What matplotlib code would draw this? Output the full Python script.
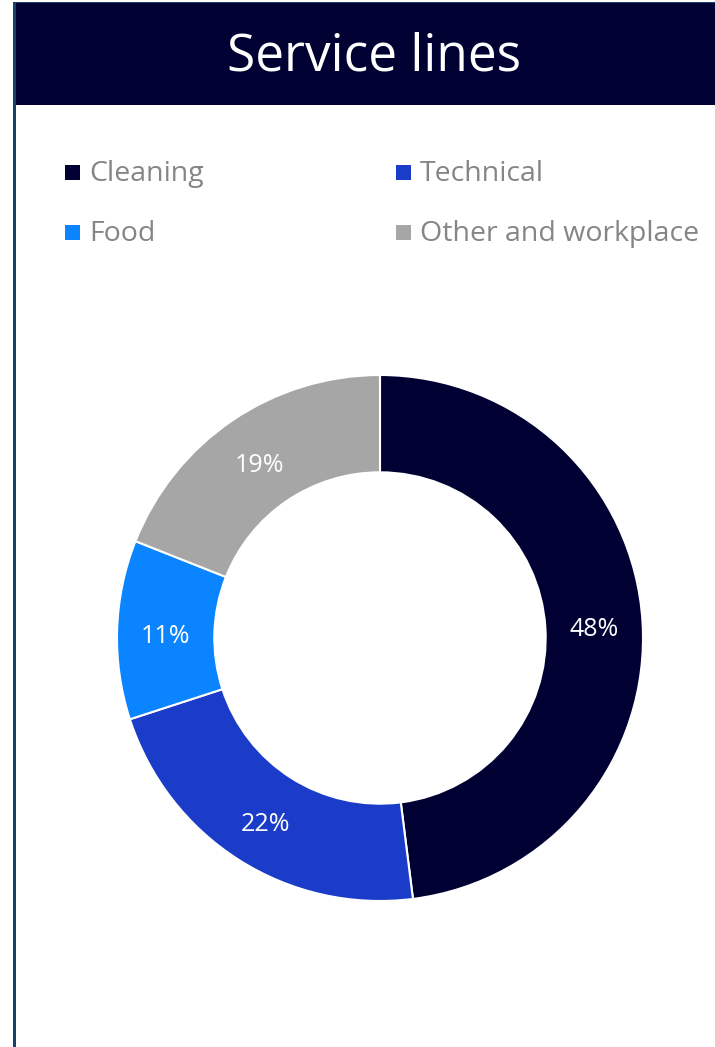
import matplotlib.pyplot as plt
from matplotlib.patches import Rectangle
import numpy as np

# Service line split
categories = ["Cleaning", "Technical", "Food", "Other and workplace"]
shares = [48, 22, 11, 19]
colors = ["#000033", "#1a3cc8", "#0a84ff", "#a6a6a6"]

plt.rcParams['font.family'] = ['Open Sans', 'DejaVu Sans']

W, H = 715, 1047
fig = plt.figure(figsize=(W / 100, H / 100), dpi=100)
fig.patch.set_facecolor("white")

# header band and left border
fig.add_artist(Rectangle((13 / W, 1 - 105 / H), 1, 102 / H, transform=fig.transFigure,
                         facecolor="#000033", edgecolor="none"))
fig.add_artist(Rectangle((13 / W, 0), 2.5 / W, 1 - 2 / H, transform=fig.transFigure,
                         facecolor="#17406b", edgecolor="none"))
fig.add_artist(Rectangle((13 / W, 1 - 3 / H), 1, 1.5 / H, transform=fig.transFigure,
                         facecolor="#17406b", edgecolor="none"))
fig.text(374 / W, 1 - 57 / H, "Service lines", color="white", fontsize=37,
         ha="center", va="center")

# legend, two columns
leg_pos = [(65, 174), (396, 174), (65, 234), (396, 234)]
for (lx, ly), name, col in zip(leg_pos, categories, colors):
    fig.add_artist(Rectangle((lx / W, 1 - (ly + 6) / H), 15 / W, 15 / H,
                             transform=fig.transFigure, facecolor=col, edgecolor="none"))
    fig.text((lx + 24) / W, 1 - ly / H, name, color="#858585", fontsize=20.5,
             ha="left", va="center")

# donut
cx, cy, r = 380, 638, 263
ax = fig.add_axes([(cx - r) / W, (H - cy - r) / H, 2 * r / W, 2 * r / H])
wedges, _ = ax.pie(shares, colors=colors, startangle=90, counterclock=False,
                   radius=1, wedgeprops=dict(width=0.37, edgecolor="white", linewidth=1.5))
ang = 90.0
for w, s in zip(wedges, shares):
    mid = np.deg2rad(ang - s * 3.6 / 2)
    ang -= s * 3.6
    ax.text(0.815 * np.cos(mid), 0.815 * np.sin(mid) - 0.02, f"{s}%", color="white",
            fontsize=18, ha="center", va="center")
ax.set_xlim(-1, 1)
ax.set_ylim(-1, 1)
ax.set_aspect("equal")
ax.axis("off")

fig.savefig("out.png", dpi=100)
